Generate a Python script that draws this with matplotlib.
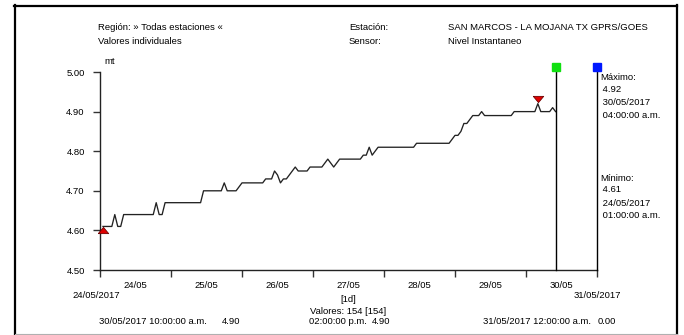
import numpy as np
import matplotlib
matplotlib.use('Agg')
import matplotlib.pyplot as plt
from matplotlib.path import Path
from matplotlib.lines import Line2D
import matplotlib.transforms as mtransforms

plt.rcParams['font.family'] = ['Liberation Sans', 'DejaVu Sans']
FS = 6.8

# hourly water level (m), 24/05/2017 01:00 .. 30/05/2017 10:00  (154 values)
level = [
    4.61, 4.61, 4.61, 4.61, 4.64, 4.61, 4.61, 4.64, 4.64, 4.64, 4.64, 4.64,
    4.64, 4.64, 4.64, 4.64, 4.64, 4.64, 4.67, 4.64, 4.64, 4.67, 4.67, 4.67,
    4.67, 4.67, 4.67, 4.67, 4.67, 4.67, 4.67, 4.67, 4.67, 4.67, 4.70, 4.70,
    4.70, 4.70, 4.70, 4.70, 4.70, 4.72, 4.70, 4.70, 4.70, 4.70, 4.71, 4.72,
    4.72, 4.72, 4.72, 4.72, 4.72, 4.72, 4.72, 4.73, 4.73, 4.73, 4.75, 4.74,
    4.72, 4.73, 4.73, 4.74, 4.75, 4.76, 4.75, 4.75, 4.75, 4.75, 4.76, 4.76,
    4.76, 4.76, 4.76, 4.77, 4.78, 4.77, 4.76, 4.77, 4.78, 4.78, 4.78, 4.78,
    4.78, 4.78, 4.78, 4.78, 4.79, 4.79, 4.81, 4.79, 4.80, 4.81, 4.81, 4.81,
    4.81, 4.81, 4.81, 4.81, 4.81, 4.81, 4.81, 4.81, 4.81, 4.81, 4.82, 4.82,
    4.82, 4.82, 4.82, 4.82, 4.82, 4.82, 4.82, 4.82, 4.82, 4.82, 4.83, 4.84,
    4.84, 4.85, 4.87, 4.87, 4.88, 4.89, 4.89, 4.89, 4.90, 4.89, 4.89, 4.89,
    4.89, 4.89, 4.89, 4.89, 4.89, 4.89, 4.89, 4.90, 4.90, 4.90, 4.90, 4.90,
    4.90, 4.90, 4.90, 4.92, 4.90, 4.90, 4.90, 4.90, 4.91, 4.90,
]
first_hour = 1                      # 24/05 01:00
hours = first_hour + np.arange(len(level))

day_labels = ['24/05', '25/05', '26/05', '27/05', '28/05', '29/05', '30/05']
y_ticks = [4.50, 4.60, 4.70, 4.80, 4.90, 5.00]
cursor_hour = 154                   # 30/05 10:00 (green cursor)
end_hour = 168                      # 31/05 00:00 (blue cursor)
max_val, max_hour = 4.92, 148
min_val, min_hour = 4.61, 1

W, H = 684, 335
fig = plt.figure(figsize=(W / 100, H / 100), dpi=100)


def fx(x):
    return x / W


def fy(y):
    return 1 - y / H


def txt(x, y, s, ha='left'):
    fig.text(fx(x), fy(y), s, ha=ha, va='center', fontsize=FS, color='black')


# outer frame
fig.add_artist(Line2D([fx(14.5), fx(14.5)], [fy(5), fy(335)], color='black', lw=1.6))
fig.add_artist(Line2D([fx(14), fx(677)], [fy(5.5), fy(5.5)], color='black', lw=1.6))
fig.add_artist(Line2D([fx(676.5), fx(676.5)], [fy(5), fy(335)], color='black', lw=1.6))
fig.add_artist(Line2D([fx(15), fx(677)], [fy(333.5), fy(333.5)], color='#b0b0b0', lw=0.8))

ax = fig.add_axes([fx(100), fy(270), (597 - 100) / W, (270 - 72) / H])
ax.set_facecolor('none')
ax.plot(hours, level, color='#222222', lw=0.95, zorder=3)

ax.set_xlim(0, end_hour)
ax.set_ylim(4.50, 5.00)
for s in ['top', 'right']:
    ax.spines[s].set_visible(False)
for s in ['left', 'bottom']:
    ax.spines[s].set_linewidth(1.0)
    ax.spines[s].set_color('#222222')

ax.set_yticks(y_ticks)
ax.set_yticklabels(['%.2f' % v for v in y_ticks])
ax.tick_params(axis='y', length=5, width=1, pad=6, labelsize=FS, color='#333333')

ax.set_xticks(np.arange(0, end_hour + 1, 24))
ax.set_xticklabels([])
ax.set_xticks(np.arange(12, end_hour, 24), minor=True)
ax.set_xticklabels(day_labels, minor=True)
ax.tick_params(axis='x', which='major', length=5, width=1, color='#333333')
ax.tick_params(axis='x', which='minor', length=0, pad=8, labelsize=FS)

# cursor lines and squares
up = mtransforms.ScaledTranslation(0, 5.5 / 100, fig.dpi_scale_trans)
for h, c in [(cursor_hour, '#10e010'), (end_hour, '#0018ff')]:
    ax.plot([h, h], [4.50, 5.00], color='black', lw=1.0, zorder=4, clip_on=False)
    ax.plot([h], [5.00], marker='s', ms=6.3, color=c, mec=c,
            transform=ax.transData + up, clip_on=False, zorder=5)

# min / max triangles
tri_up = Path([(-1, -0.6), (1, -0.6), (0, 0.6), (-1, -0.6)])
tri_dn = Path([(-1, 0.6), (1, 0.6), (0, -0.6), (-1, 0.6)])
dn = mtransforms.ScaledTranslation(0, -3.5 / 100, fig.dpi_scale_trans)
upm = mtransforms.ScaledTranslation(0, 5 / 100, fig.dpi_scale_trans)
ax.plot([min_hour], [min_val], marker=tri_up, ms=7.5, color='#e00000', mec='#700000',
        mew=0.6, transform=ax.transData + dn, clip_on=False, zorder=6)
ax.plot([max_hour], [max_val], marker=tri_dn, ms=7.5, color='#e00000', mec='#700000',
        mew=0.6, transform=ax.transData + upm, clip_on=False, zorder=6)

# header
txt(98, 27, 'Región: » Todas estaciones «')
txt(98, 42, 'Valores individuales')
txt(349, 27, 'Estación:')
txt(349, 42, 'Sensor:')
txt(448, 27, 'SAN MARCOS - LA MOJANA TX GPRS/GOES')
txt(448, 42, 'Nivel Instantaneo')
txt(104, 61, 'mt')

# right side max / min info
txt(600, 78, 'Máximo:')
txt(600, 90, ' %.2f' % max_val)
txt(600, 103, ' 30/05/2017')
txt(600, 116, ' 04:00:00 a.m.')
txt(600, 178, 'Mínimo:')
txt(600, 190, ' %.2f' % min_val)
txt(600, 203, ' 24/05/2017')
txt(600, 216, ' 01:00:00 a.m.')

# footer
txt(96, 296, '24/05/2017', ha='center')
txt(597, 296, '31/05/2017', ha='center')
txt(348, 300, '[1d]', ha='center')
txt(348, 311, 'Valores: %d [%d]' % (len(level), len(level)), ha='center')
txt(99, 322, '30/05/2017 10:00:00 a.m.')
txt(222, 322, '%.2f' % level[-1])
txt(309, 322, '02:00:00 p.m.')
txt(372, 322, '4.90')
txt(483, 322, '31/05/2017 12:00:00 a.m.')
txt(598, 322, '0.00')

fig.savefig('out.png', dpi=100)
